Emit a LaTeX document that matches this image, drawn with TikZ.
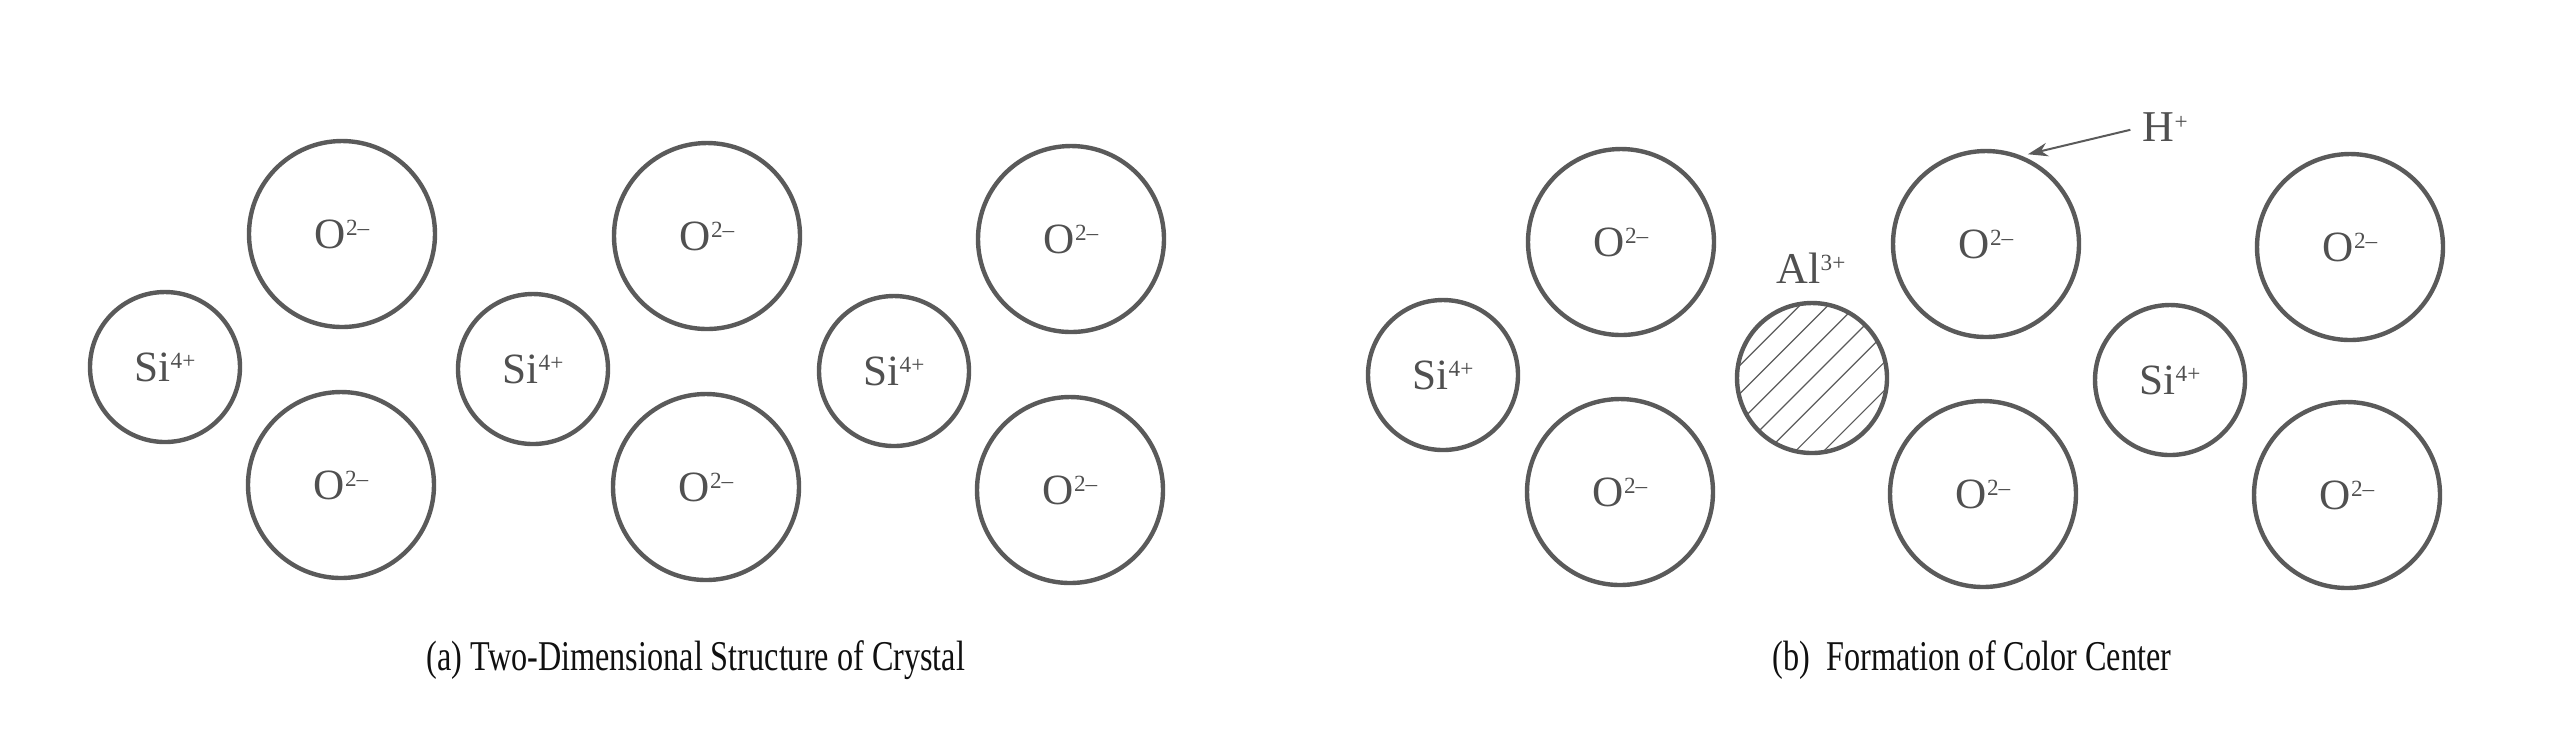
\documentclass[tikz,border=0pt]{standalone}
\usepackage{fontspec}
\setmainfont{Liberation Serif}
\newfontfamily\capfont[FakeStretch=0.76]{Liberation Serif}
\usetikzlibrary{arrows.meta}
\definecolor{ringc}{HTML}{5A5A5A}
\definecolor{labc}{HTML}{505050}
\definecolor{capc}{HTML}{101010}
\newcommand\ionsup[1]{\raisebox{3.1pt}{\fontsize{5.8}{6}\selectfont #1}}
\begin{document}
\begin{tikzpicture}[x=0.25pt,y=-0.25pt,
  ion/.style={circle,draw=ringc,line width=1.1pt,inner sep=0pt,text=labc,
    font=\fontsize{10.8}{12}\selectfont},
  oion/.style={ion,minimum size=46.5pt},
  siion/.style={ion,minimum size=37.5pt},
  hatchline/.style={draw=ringc,line width=0.3pt},
  lab/.style={text=labc,inner sep=0pt,font=\fontsize{11}{12}\selectfont},
  captext/.style={text=capc,inner sep=0pt,font=\capfont\fontsize{10.6}{12}\selectfont},
  arr/.style={draw=ringc,line width=0.5pt,-{Stealth[length=5pt,width=3.4pt]}}]
\useasboundingbox (0,0) rectangle (2560,732);
% panel (a)
\node[siion] (as1) at (165,367) {Si\ionsup{4+}};
\node[oion] (aot1) at (342,234) {O\ionsup{2–}};
\node[oion] (aob1) at (341,485) {O\ionsup{2–}};
\node[siion] (as2) at (533,369) {Si\ionsup{4+}};
\node[oion] (aot2) at (707,236) {O\ionsup{2–}};
\node[oion] (aob2) at (706,487) {O\ionsup{2–}};
\node[siion] (as3) at (894,371) {Si\ionsup{4+}};
\node[oion] (aot3) at (1071,239) {O\ionsup{2–}};
\node[oion] (aob3) at (1070,490) {O\ionsup{2–}};
% panel (b)
\node[siion] (bs1) at (1443,375) {Si\ionsup{4+}};
\node[oion] (bot1) at (1621,242) {O\ionsup{2–}};
\node[oion] (bob1) at (1620,492) {O\ionsup{2–}};
\node[siion,path picture={
   \foreach \k in {-4,...,4}{
     \draw[hatchline] ([shift={(\k*7.07pt-21pt,-21pt)}]path picture bounding box.center)
       -- ([shift={(\k*7.07pt+21pt,21pt)}]path picture bounding box.center);}
  }] (bal) at (1812,378) {};
\node[lab] (allab) at (1811,268) {Al\ionsup{3+}};
\node[oion] (bot2) at (1986,244) {O\ionsup{2–}};
\node[oion] (bob2) at (1983,494) {O\ionsup{2–}};
\node[siion] (bs2) at (2170,380) {Si\ionsup{4+}};
\node[oion] (bot3) at (2350,247) {O\ionsup{2–}};
\node[oion] (bob3) at (2347,495) {O\ionsup{2–}};
\node[lab,anchor=west] (hlab) at (2142,127) {H\ionsup{+}};
\draw[arr,shorten >=1.6pt,shorten <=3pt] (hlab.west) -- (bot2.68);
% captions
\node[captext] (capa) at (696,660) {(a) Two-Dimensional Structure of Crystal};
\node[captext] (capb) at (1972,660) {(b)\ \ Formation of Color Center};
\end{tikzpicture}
\end{document}
